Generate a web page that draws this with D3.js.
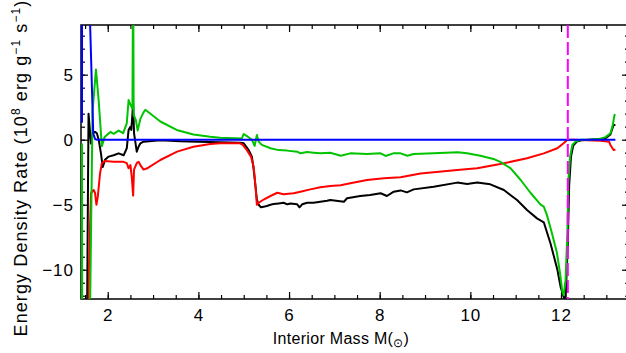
<!DOCTYPE html>
<html>
<head>
<meta charset="utf-8">
<script src="https://cdn.jsdelivr.net/npm/d3@7"></script>
<style>
  body { margin: 0; background: #fff; }
  text { font-family: "Liberation Sans", Arial, sans-serif; }
</style>
</head>
<body>
<div id="chart"></div>
<script>
// Energy density rate curves, [interior mass, rate] pairs
// values beyond the frame (+-20) just push the line off the plot
const blackSeries = [
  [1.435, -20], [1.53, -20], [1.576, 2.0], [1.63, -0.3], [1.67, 0.5], [1.72, 0.6], [1.76, 0.5],
  [1.80, 0.0], [1.85, -1.05], [1.89, -2.1], [1.94, -1.55], [2.02, -1.3], [2.13, -1.2], [2.24, -1.05],
  [2.35, -1.2], [2.42, -0.66], [2.46, 0.75], [2.50, 1.0], [2.52, 0.75], [2.56, 2.8], [2.58, 0.5],
  [2.64, -0.92], [2.68, -0.54], [2.72, -0.28], [2.79, -0.15], [3.16, -0.05], [3.6, -0.12], [4.0, -0.15],
  [4.48, -0.2], [4.92, -0.23], [5.0, -0.28], [5.11, -0.8], [5.18, -1.3], [5.22, -2.3], [5.26, -3.6],
  [5.29, -4.6], [5.33, -5.0], [5.38, -5.2], [5.44, -5.15], [5.51, -5.1], [5.59, -5.0], [5.66, -4.95],
  [5.77, -4.9], [5.88, -4.85], [5.96, -4.97], [6.03, -4.9], [6.18, -4.97], [6.23, -5.2], [6.29, -4.97],
  [6.40, -4.85], [6.54, -4.85], [6.69, -4.77], [6.84, -4.7], [6.91, -4.64], [7.21, -4.77], [7.28, -4.5],
  [7.57, -4.33], [7.79, -4.25], [8.02, -4.12], [8.16, -4.33], [8.31, -4.0], [8.46, -3.9], [8.60, -4.05],
  [8.75, -3.82], [9.19, -3.62], [9.71, -3.3], [9.93, -3.4], [10.15, -3.3], [10.44, -3.43], [10.74, -3.87],
  [11.03, -4.64], [11.25, -5.4], [11.47, -6.05], [11.62, -6.35], [11.77, -8.0], [11.92, -10.0],
  [11.99, -11.3], [12.05, -12.0], [12.10, -12.4], [12.15, -8], [12.18, -3.5], [12.22, -1.3],
  [12.27, -0.45], [12.35, -0.15], [12.45, -0.05], [12.7, 0.02], [12.9, 0.08], [13.0, 0.15],
  [13.09, 0.4], [13.16, 1.13], [13.2, 1.13]
];

const redSeries = [
  [1.435, -20], [1.56, -20], [1.585, -9.8], [1.63, -4.1], [1.69, -3.87], [1.72, -4.1], [1.75, -5.0],
  [1.78, -4.4], [1.83, -2.6], [1.87, -1.8], [1.94, -1.64], [2.13, -1.7], [2.35, -1.7], [2.42, -1.8],
  [2.46, -2.2], [2.50, -1.95], [2.53, -2.85], [2.56, -4.3], [2.58, -2.3], [2.64, -1.8], [2.68, -1.7],
  [2.72, -1.95], [2.79, -2.3], [2.87, -2.2], [3.16, -1.56], [3.53, -0.92], [3.89, -0.54], [4.26, -0.33],
  [4.48, -0.28], [4.92, -0.28], [4.98, -0.4], [5.07, -0.8], [5.16, -1.3], [5.22, -2.1], [5.26, -3.6],
  [5.29, -5.0], [5.33, -4.85], [5.44, -4.6], [5.59, -4.33], [5.74, -4.08], [5.88, -4.2], [6.10, -4.12],
  [6.25, -4.0], [6.47, -3.82], [6.69, -3.66], [6.91, -3.56], [7.14, -3.5], [7.35, -3.35], [7.72, -3.1],
  [8.09, -2.97], [8.46, -2.88], [8.90, -2.6], [9.71, -2.33], [10.15, -2.2], [10.66, -1.87],
  [11.25, -1.43], [11.62, -1.05], [11.92, -0.66], [12.07, -0.23], [12.14, 0.0], [12.28, 0.0],
  [12.87, -0.08], [13.06, -0.15], [13.09, -0.4], [13.16, -0.8], [13.2, -0.75]
];

const greenSeries = [
  [1.432, -0.3], [1.437, -20], [1.585, -20], [1.665, 2.2], [1.74, 5.4], [1.80, 3.0], [1.87, -0.5],
  [1.93, 0.2], [2.06, 0.6], [2.13, 0.45], [2.24, 0.7], [2.34, 0.5], [2.42, 1.25], [2.46, 3.05],
  [2.50, 2.7], [2.545, 2.4], [2.56, 14], [2.572, 1.9], [2.62, 1.5], [2.66, 0.7], [2.72, 1.6],
  [2.79, 2.1], [2.83, 2.3], [3.16, 1.4], [3.52, 0.75], [3.89, 0.4], [4.26, 0.22], [4.48, 0.15],
  [4.96, 0.1], [5.0, 0.44], [5.07, 0.28], [5.18, 0.0], [5.24, -0.48], [5.29, 0.36], [5.33, -0.15],
  [5.40, -0.4], [5.59, -0.66], [5.77, -0.8], [5.96, -0.84], [6.18, -0.92], [6.25, -1.05], [6.40, -0.95],
  [6.54, -1.0], [6.69, -1.05], [6.91, -1.0], [7.14, -1.23], [7.35, -1.05], [7.72, -1.1], [8.02, -1.05],
  [8.13, -1.25], [8.30, -1.05], [8.46, -1.05], [8.61, -1.23], [8.75, -1.1], [9.19, -1.05],
  [9.72, -0.97], [9.93, -1.05], [10.22, -1.23], [10.51, -1.48], [10.66, -1.7], [10.89, -2.2],
  [11.11, -3.1], [11.33, -4.1], [11.55, -5.0], [11.62, -5.15], [11.69, -5.8], [11.80, -7.2],
  [11.91, -8.7], [11.98, -10.3], [12.03, -11.7], [12.06, -11.95], [12.10, -10.8], [12.14, -7.2],
  [12.16, -3.3], [12.20, -1.3], [12.25, -0.4], [12.32, -0.15], [12.43, 0.0], [12.65, 0.02],
  [12.87, 0.08], [12.98, 0.2], [13.09, 0.5], [13.14, 1.1], [13.18, 1.9], [13.2, 1.95]
];

const blueSeries = [
  [1.432, 1.3], [1.434, 20], [1.60, 20], [1.61, 9], [1.68, 0.5], [1.72, 0.05], [1.76, 0.0], [13.2, 0.0]
];

const markerMass = [12.15];          // dashed magenta line

const xMajorTicks = [2, 4, 6, 8, 10, 12];
const xMinorTicks = d3.range(1.5, 13.51, 0.5);
const yMajorTicks = [-10, -5, 0, 5];
const yMinorTicks = d3.range(-12, 9, 1);

const W = 626, H = 353;
const margin = {top: 25, right: -3, bottom: 54, left: 81};
const width = W - margin.left - margin.right;
const height = H - margin.top - margin.bottom;

const svg = d3.select("#chart").append("svg")
  .attr("width", W)
  .attr("height", H);

const g = svg.append("g")
  .attr("transform", `translate(${margin.left},${margin.top})`);

const x = d3.scaleLinear().domain([1.41, 13.5]).range([0, width]);
const y = d3.scaleLinear().domain([-12.25, 8.82]).range([height, 0]);

g.append("clipPath").attr("id", "plotclip")
  .append("rect").attr("x", -2).attr("width", width + 2).attr("height", height);

// ticks point inward on all four sides
function tickAxis(axis, scale, ticks, size, fmt) {
  return axis(scale).tickValues(ticks).tickSize(-size).tickPadding(size > 5 ? 10 : 0)
    .tickFormat(fmt);
}
const minus = d => d < 0 ? "\u2212" + Math.abs(d) : String(d);

g.append("g").attr("transform", `translate(0,${height})`)
  .call(tickAxis(d3.axisBottom, x, xMinorTicks, 4, ""));
g.append("g").attr("transform", `translate(0,${height})`)
  .call(tickAxis(d3.axisBottom, x, xMajorTicks, 7, d => d));
g.append("g").call(tickAxis(d3.axisTop, x, xMinorTicks, 4, ""));
g.append("g").call(tickAxis(d3.axisTop, x, xMajorTicks, 7, ""));

g.append("g").call(tickAxis(d3.axisLeft, y, yMinorTicks, 4, ""));
g.append("g")
  .call(tickAxis(d3.axisLeft, y, yMajorTicks, 7, minus).tickPadding(7));
g.append("g").attr("transform", `translate(${width},0)`)
  .call(tickAxis(d3.axisRight, y, yMinorTicks, 4, ""));
g.append("g").attr("transform", `translate(${width},0)`)
  .call(tickAxis(d3.axisRight, y, yMajorTicks, 7, ""));

g.selectAll(".domain").remove();
g.selectAll(".tick line").attr("stroke", "#000").attr("stroke-width", 1.2);
g.selectAll(".tick text").attr("font-size", 17).attr("fill", "#000")
  .attr("font-family", "Liberation Sans, Arial, sans-serif")
  .attr("letter-spacing", 1);

g.append("rect")
  .attr("width", width).attr("height", height)
  .attr("fill", "none").attr("stroke", "#000").attr("stroke-width", 1.5);

const line = d3.line().x(d => x(d[0])).y(d => y(d[1]));
const plot = g.append("g").attr("clip-path", "url(#plotclip)");

[[blackSeries, "#000000"], [redSeries, "#ff0000"], [greenSeries, "#00c400"], [blueSeries, "#0000ff"]]
  .forEach(([data, color]) => {
    plot.append("path")
      .datum(data)
      .attr("fill", "none")
      .attr("stroke", color)
      .attr("stroke-width", 2)
      .attr("stroke-linejoin", "round")
      .attr("d", line);
  });

plot.selectAll("line.marker")
  .data(markerMass)
  .join("line")
  .attr("class", "marker")
  .attr("x1", d => x(d)).attr("x2", d => x(d))
  .attr("y1", 0).attr("y2", height)
  .attr("stroke", "#ff00ff")
  .attr("stroke-width", 2)
  .attr("stroke-dasharray", "13,4");

// axis titles
const xlab = svg.append("text")
  .attr("x", 341).attr("y", 344)
  .attr("text-anchor", "middle")
  .attr("font-size", 16)
  .attr("letter-spacing", 0.3);
xlab.append("tspan").text("Interior Mass M(");
xlab.append("tspan").attr("font-size", 12).attr("dy", 3).text("\u2299");
xlab.append("tspan").attr("dy", -3).text(")");

const ylab = svg.append("text")
  .attr("transform", "translate(27,168) rotate(-90)")
  .attr("text-anchor", "middle")
  .attr("font-size", 18)
  .attr("letter-spacing", 1.1);
ylab.append("tspan").text("Energy Density Rate (10");
ylab.append("tspan").attr("font-size", 12).attr("dy", -7).text("8");
ylab.append("tspan").attr("dy", 7).text(" erg g");
ylab.append("tspan").attr("font-size", 12).attr("dy", -7).text("\u22121");
ylab.append("tspan").attr("dy", 7).text(" s");
ylab.append("tspan").attr("font-size", 12).attr("dy", -7).text("\u22121");
ylab.append("tspan").attr("dy", 7).text(")");
</script>
</body>
</html>
